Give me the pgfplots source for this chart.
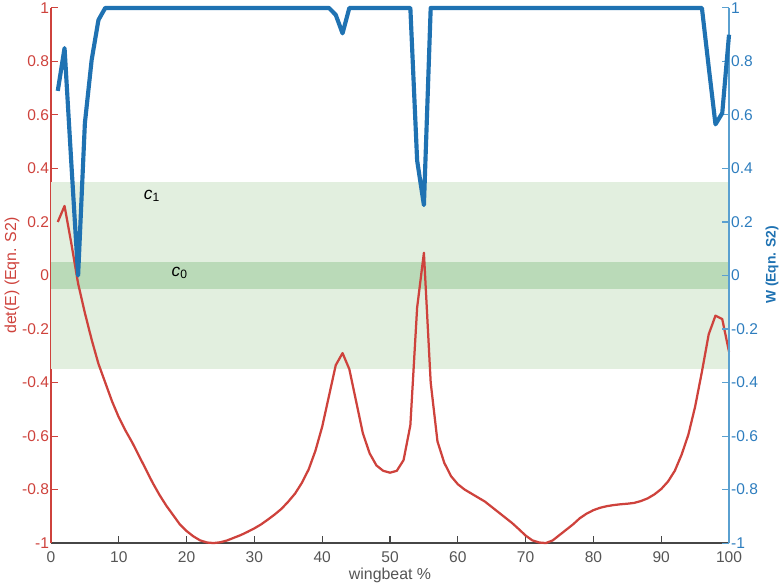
\documentclass[border=0pt]{standalone}
\usepackage{pgfplots}
\pgfplotsset{compat=1.18}
\usepackage{fontspec}
\setmainfont{Liberation Sans}
\definecolor{detred}{RGB}{206,66,60}
\definecolor{wblue}{RGB}{31,114,178}
\definecolor{wax}{RGB}{90,160,208}
\definecolor{wtick}{RGB}{45,125,190}
\definecolor{lgreen}{RGB}{226,239,223}
\definecolor{dgreen}{RGB}{186,218,184}
\definecolor{axgray}{RGB}{70,70,70}
\definecolor{tickgray}{RGB}{85,85,85}

\pgfplotstableread{
x y
1 0.20
2 0.26
3 0.12
4 -0.03
5 -0.14
6 -0.24
7 -0.33
8 -0.40
9 -0.47
10 -0.53
11 -0.58
12 -0.625
13 -0.675
14 -0.725
15 -0.775
16 -0.82
17 -0.86
18 -0.895
19 -0.93
20 -0.955
21 -0.975
22 -0.99
23 -0.998
24 -1.0
25 -0.997
26 -0.99
27 -0.98
28 -0.97
29 -0.958
30 -0.945
31 -0.93
32 -0.912
33 -0.893
34 -0.872
35 -0.845
36 -0.815
37 -0.775
38 -0.725
39 -0.655
40 -0.565
41 -0.45
42 -0.335
43 -0.29
44 -0.35
45 -0.47
46 -0.59
47 -0.665
48 -0.71
49 -0.73
50 -0.737
51 -0.73
52 -0.69
53 -0.56
54 -0.12
55 0.085
56 -0.40
57 -0.62
58 -0.70
59 -0.75
60 -0.78
61 -0.80
62 -0.815
63 -0.83
64 -0.845
65 -0.865
66 -0.885
67 -0.905
68 -0.925
69 -0.948
70 -0.972
71 -0.99
72 -0.998
73 -1.0
74 -0.99
75 -0.97
76 -0.95
77 -0.93
78 -0.907
79 -0.89
80 -0.877
81 -0.868
82 -0.862
83 -0.858
84 -0.855
85 -0.853
86 -0.85
87 -0.843
88 -0.833
89 -0.818
90 -0.798
91 -0.77
92 -0.73
93 -0.67
94 -0.595
95 -0.49
96 -0.36
97 -0.22
98 -0.15
99 -0.163
100 -0.285
}\detdata

\pgfplotstableread{
x y
1 0.69
2 0.85
3 0.42
4 0.0
5 0.57
6 0.806
7 0.955
8 1
41 1
42 0.974
43 0.905
44 1
53 1
54 0.43
55 0.263
56 1
96 1
97 0.78
98 0.565
99 0.607
100 0.9
}\wdata

\begin{document}
\begin{tikzpicture}
\useasboundingbox (-29.5pt,-23.1pt) rectangle (424.1pt,314.2pt);
\begin{axis}[
  scale only axis, width=392.3pt, height=309.6pt,
  xmin=0, xmax=100, ymin=-1, ymax=1,
  axis x line*=bottom, axis y line*=left,
  x axis line style={axgray, line width=0.7pt},
  y axis line style={detred, line width=0.7pt},
  tick align=inside, major tick length=4pt,
  xtick={0,10,...,100},
  xtick style={axgray, line width=0.6pt},
  ytick={-1,-0.8,-0.6,-0.4,-0.2,0,0.2,0.4,0.6,0.8,1},
  yticklabels={-1,-0.8,-0.6,-0.4,-0.2,0,0.2,0.4,0.6,0.8,1},
  ytick style={detred, line width=0.6pt},
  xticklabels={0,10,20,30,40,50,60,70,80,90,100},
  xticklabel style={tickgray, font=\fontsize{9}{10}\selectfont, yshift=-1.5pt},
  yticklabel style={detred, font=\fontsize{9}{10}\selectfont, inner xsep=1pt},
  xlabel={wingbeat \%},
  xlabel style={tickgray, font=\fontsize{9.2}{11}\selectfont, at={(axis description cs:0.5,-0.061)}, anchor=center},
  ylabel={det(E) (Eqn. S2)},
  ylabel style={detred, font=\fontsize{9.2}{11}\selectfont, at={(axis description cs:-0.0575,0.5)}, anchor=center},
  clip=false,
]
\addplot[fill=lgreen, draw=none] coordinates {(0,-0.35) (100,-0.35) (100,0.35) (0,0.35)} -- cycle;
\addplot[fill=dgreen, draw=none] coordinates {(0,-0.05) (100,-0.05) (100,0.05) (0,0.05)} -- cycle;
\addplot[detred, line width=1.3pt, line join=round] table[x=x,y=y] {\detdata};
\node[font=\fontsize{10}{12}\selectfont] at (axis cs:14.9,0.297) {\textit{c}\textsubscript{1}};
\node[font=\fontsize{10}{12}\selectfont] at (axis cs:19,0.01) {\textit{c}\textsubscript{0}};
\end{axis}
\begin{axis}[
  scale only axis, width=392.3pt, height=309.6pt,
  xmin=0, xmax=100, ymin=-1, ymax=1,
  axis x line=none, axis y line*=right,
  y axis line style={wax, line width=0.7pt},
  tick align=inside, major tick length=4pt,
  xtick=\empty,
  ytick={-1,-0.8,-0.6,-0.4,-0.2,0,0.2,0.4,0.6,0.8,1},
  yticklabels={-1,-0.8,-0.6,-0.4,-0.2,0,0.2,0.4,0.6,0.8,1},
  ytick style={wax, line width=0.6pt},
  yticklabel style={wtick, font=\fontsize{9}{10}\selectfont, inner xsep=1pt},
  ylabel={\textbf{W (Eqn. S2)}},
  ylabel style={wblue, font=\fontsize{8}{10}\selectfont, at={(axis description cs:1.0634,0.52)}, anchor=center, rotate=0},
  clip=false,
]
\addplot[wblue, line width=2.4pt, line join=round] table[x=x,y=y] {\wdata};
\end{axis}
\end{tikzpicture}
\end{document}
